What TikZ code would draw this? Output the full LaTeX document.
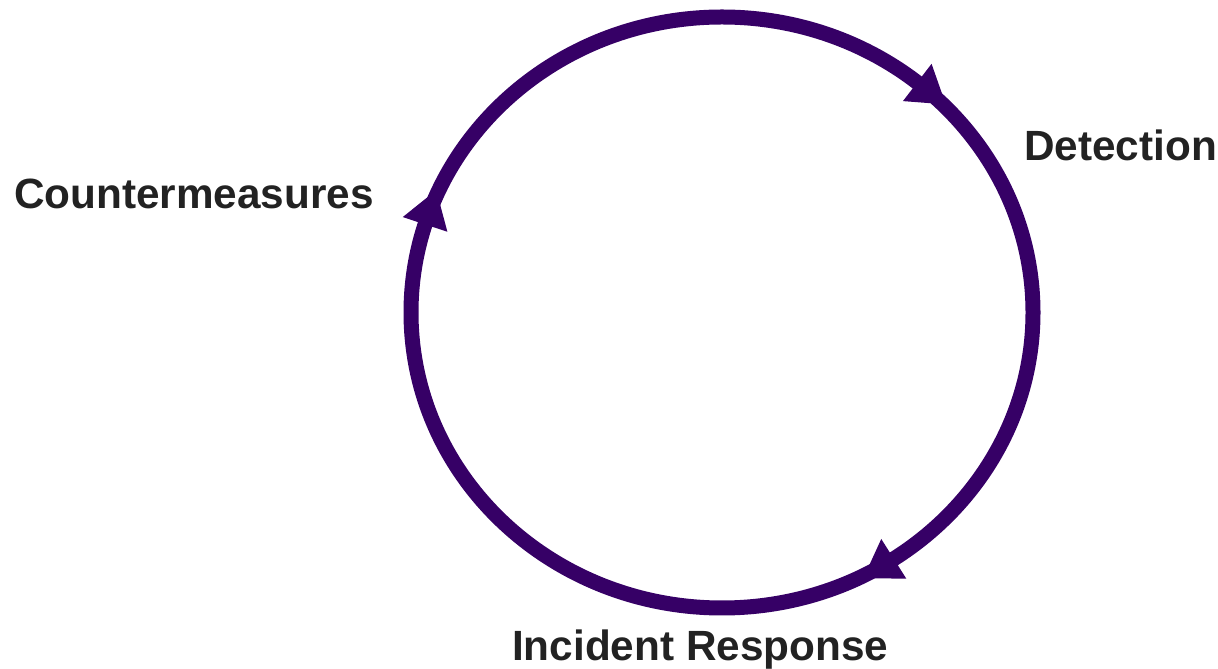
\documentclass[tikz,border=0pt]{standalone}
\usepackage{fontspec}
\setmainfont{Liberation Sans}
\usetikzlibrary{decorations.markings,calc}
\definecolor{ring}{RGB}{54,0,102}
\definecolor{txt}{RGB}{34,34,34}
\tikzset{
  label/.style={anchor=base west, inner sep=0pt, text=txt, font=\fontsize{42.3}{50}\selectfont\bfseries},
  ringline/.style={draw=ring, line width=15pt},
}
\newcommand{\tipmark}{\fill[ring] (0,23.5pt) -- (36pt,0) -- (0,-23.5pt) -- cycle;}
\begin{document}
\begin{tikzpicture}[x=1pt,y=1pt]
\useasboundingbox (0,0) rectangle (1218,669);
\coordinate (c) at (722,356.5);
\draw[ringline, postaction={decorate}, decoration={markings,
    mark=at position 0.11 with {\tipmark},
    mark=at position 0.405 with {\tipmark},
    mark=at position 0.797 with {\tipmark}}]
  ($(c)+(0,295.5)$) arc[start angle=90, end angle=-270, x radius=311, y radius=295.5];
\node[label] (det) at (1024,508) {Detection};
\node[label] (cm) at (14,460) {Countermeasures};
\node[label] (ir) at (512,8) {Incident Response};
\end{tikzpicture}
\end{document}
